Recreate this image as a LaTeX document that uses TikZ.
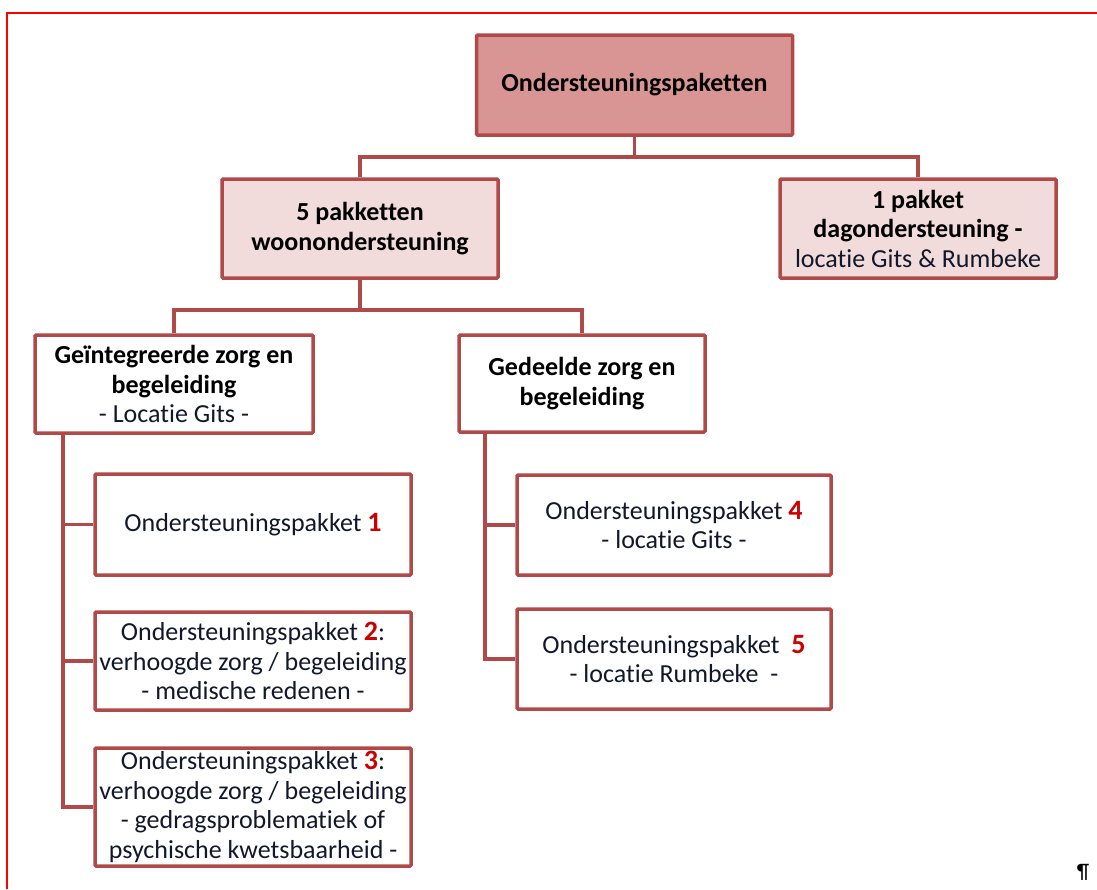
\documentclass[tikz,border=0pt]{standalone}
\usepackage{fontspec}
\setmainfont{Carlito}[Ligatures={NoCommon}]
\definecolor{boxline}{RGB}{176,74,72}
\definecolor{rootfill}{RGB}{217,149,148}
\definecolor{lightfill}{RGB}{242,220,219}
\definecolor{bodytext}{RGB}{18,24,44}
\definecolor{numred}{RGB}{204,0,0}
\definecolor{pageframe}{RGB}{255,0,0}
\newcommand{\pknum}[1]{{\fontsize{28}{29.5}\selectfont\textcolor{numred}{\textbf{#1}}}}
\begin{document}
\begin{tikzpicture}[x=1pt,y=-1pt,
  box/.style={draw=boxline, line width=3.5pt, rounded corners=1pt, align=center,
    inner sep=1pt, text=bodytext,
    font=\fontsize{26}{29.5}\selectfont},
  rootbox/.style={box, fill=rootfill, text=black, font=\fontsize{26}{29.5}\selectfont\bfseries},
  lightbox/.style={box, fill=lightfill},
  plainbox/.style={box, fill=white},
  link/.style={draw=boxline, line width=3.5pt}
]
\useasboundingbox (0,0) rectangle (1097,889);

% page frame
\draw[pageframe, line width=2pt] (7,889) -- (7,13) -- (1097,13);

% boxes
\node[rootbox, minimum width=316pt, minimum height=100pt] (root) at (634.5,85)
  {Ondersteuningspaketten};
\node[lightbox, minimum width=276pt, minimum height=99pt] (woon) at (360,228.5)
  {\textcolor{black}{\textbf{5 pakketten}}\\\textcolor{black}{\textbf{woonondersteuning}}};
\node[lightbox, minimum width=276pt, minimum height=99pt] (dag) at (918,228.5)
  {\textcolor{black}{\textbf{1 pakket}}\\\textcolor{black}{\textbf{dagondersteuning -}}\\locatie Gits \& Rumbeke};
\node[plainbox, minimum width=278pt, minimum height=98pt] (geint) at (174,384)
  {\textcolor{black}{\textbf{Geïntegreerde zorg en}}\\\textcolor{black}{\textbf{begeleiding}}\\- Locatie Gits -};
\node[plainbox, minimum width=246pt, minimum height=97pt] (gedeeld) at (582,383.5)
  {\textcolor{black}{\textbf{Gedeelde zorg en}}\\\textcolor{black}{\textbf{begeleiding}}};
\node[plainbox, minimum width=316pt, minimum height=101pt] (p1) at (253,524.5)
  {Ondersteuningspakket \pknum{1}};
\node[plainbox, minimum width=316pt, minimum height=98pt] (p2) at (253,661)
  {Ondersteuningspakket \pknum{2}:\\verhoogde zorg / begeleiding\\- medische redenen -};
\node[plainbox, minimum width=316pt, minimum height=118pt] (p3) at (253,807)
  {Ondersteuningspakket \pknum{3}:\\verhoogde zorg / begeleiding\\- gedragsproblematiek of\\psychische kwetsbaarheid -};
\node[plainbox, minimum width=314pt, minimum height=100pt] (p4) at (674,525)
  {Ondersteuningspakket \pknum{4}\\- locatie Gits -};
\node[plainbox, minimum width=314pt, minimum height=100pt] (p5) at (674,659)
  {Ondersteuningspakket\ \ \pknum{5}\\- locatie Rumbeke\ \ -};

% connectors
\coordinate (bus1) at (634.5,157);
\coordinate (bus2) at (360,310);
\coordinate (trunkL) at (63,434);
\coordinate (trunkR) at (485,434);

\draw[link] (root.south) -- (bus1);
\draw[link] (woon.north) |- (bus1) -| (dag.north);
\draw[link] (woon.south) -- (bus2);
\draw[link] (geint.north) |- (bus2) -| (gedeeld.north);
\draw[link] (trunkL) |- (p1.west);
\draw[link] (trunkL) |- (p2.west);
\draw[link] (trunkL) |- (p3.west);
\draw[link] (trunkR) |- (p4.west);
\draw[link] (trunkR) |- (p5.west);

% paragraph mark
\node[font=\fontsize{21}{23}\selectfont, text=black, inner sep=0pt] (pilcrow) at (1083,872) {¶};
\end{tikzpicture}
\end{document}
